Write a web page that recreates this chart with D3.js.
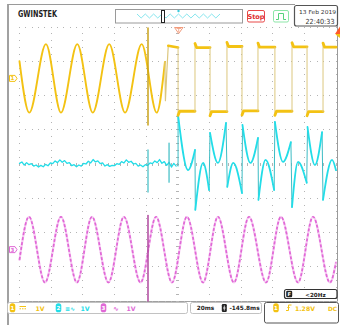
<!DOCTYPE html>
<html>
<head>
<meta charset="utf-8">
<script src="https://cdn.jsdelivr.net/npm/d3@7"></script>
<style>
  html, body { margin: 0; padding: 0; background: #fff; }
  svg { display: block; }
  text { font-family: "DejaVu Sans", "Liberation Sans", sans-serif; }
</style>
</head>
<body>
<svg id="scope" width="340" height="325"></svg>
<script>
// ---------- acquisition / status values ----------
const timebase = "20ms";
const hPosition = "-145.8ms";
const trigLevel = 1.28;          // V, on CH1
const trigText = "1.28V";
const trigCoupling = "DC";
const freqText = "<20Hz";
const dateText = "13 Feb 2019";
const clockText = "22:40:33";
const chScales = ["1V", "1V", "1V"];
const chOffsets = [2.5, 0, -2.5]; // divisions from screen centre

// ---------- CH1 (yellow): sine extrema before the event, [ms, V] ----------
const ch1Sine = [[0, 0.5], [6.2, -1.0], [16.7, 1.0], [26.2, -1.0], [36.5, 1.0],
  [46.3, -1.0], [56.7, 1.0], [66.7, -1.0], [77.2, 1.0], [86.7, -1.0], [91.9, 0.48]];
// short ringing between the sine and the square wave
const ch1Settle = [[91.9, 0.48], [92.2, -0.65], [93.0, 0.1], [94.0, 0.95], [100.2, 0.9]];
// square wave: edge times (ms) and the level reached after each edge (V)
const ch1Edges = [100.2, 110.9, 120.4, 131.1, 140.6, 150.7, 161.4, 172.2, 181.7, 191.8];
const ch1Levels = [-0.96, 0.90, -0.97, 0.93, -0.95, 0.91, -0.96, 0.92, -0.97, 0.91];
const ch1Overshoot = 0.12;
// switching spike on CH1: [ms, top V, bottom V]
const ch1Spike = [81.2, 1.47, -1.36];

// ---------- CH2 (cyan) ----------
// noisy flat trace before the event, one sample every 1.5 ms
const ch2Step = 1.5;
const ch2Noise = [0.02, 0.06, -0.03, 0.04, -0.02, 0.01, -0.06, -0.03, -0.09, -0.04,
  -0.08, -0.01, -0.05, 0.03, 0.01, 0.09, 0.04, 0.12, 0.05, 0.10,
  0.02, 0.04, -0.05, -0.02, -0.08, -0.03, -0.06, 0.02, 0.00, 0.08,
  0.03, 0.13, 0.06, 0.09, 0.01, 0.03, -0.06, -0.02, -0.07, -0.04,
  -0.05, 0.01, -0.01, 0.07, 0.03, 0.12, 0.05, 0.08, 0.00, 0.02,
  -0.06, -0.03, -0.08, -0.02, -0.04, 0.03, 0.01, 0.09, 0.04, 0.13,
  0.02, 0.07, -0.04, 0.05, -0.09, 0.02, -0.06];
// spikes [ms, top V, bottom V]
const ch2Spikes = [[81.2, 0.41, -0.82], [94.5, 0.61, -0.53]];
// lobes after the event: alternating dips and arches, [ms, V]
const ch2Lobes = [
  [[100.2, 1.43], [106.5, -0.18], [110.9, 0.41]],
  [[111.1, -1.34], [116.0, 0.03], [119.8, -0.76]],
  [[120.4, 0.91], [125.4, 0.03], [130.5, 1.20]],
  [[131.3, -0.67], [135.1, 0.03], [140.6, -0.85]],
  [[140.9, 1.14], [145.9, 0.03], [150.7, 0.76]],
  [[151.0, -1.05], [155.5, 0.12], [160.9, -0.76]],
  [[161.4, 1.23], [166.5, 0.06], [171.5, 0.64]],
  [[172.2, -1.26], [176.0, 0.06], [181.5, -0.55]],
  [[182.0, 1.08], [186.7, -0.03], [191.2, 0.93]],
  [[191.8, -1.05], [197.5, 0.12], [200.0, -0.18]]
];

// ---------- CH3 (magenta): sine extrema, [ms, V] ----------
const ch3Sine = [[0, -0.3], [6.0, 0.96], [16.1, -0.96], [26.2, 0.96], [36.3, -0.96],
  [45.8, 0.96], [56.2, -0.96], [66.0, 0.96], [76.5, -0.96], [86.3, 0.96],
  [96.4, -0.96], [105.8, 0.96], [116.0, -0.96], [125.4, 0.96], [135.5, -0.96],
  [145.0, 0.96], [155.8, -0.96], [165.2, 0.96], [176.0, -0.96], [185.5, 0.96],
  [196.2, -0.96], [200, -0.37]];
const ch3Spike = [81.2, 1.0, -1.5];

// ---------- colours ----------
const C1 = "#f3c213", C1edge = "#dcc77e", C1spike = "#c9a21a";
const C2 = "#22dde8", C2edge = "#3cbcc4";
const C3 = "#e068d6", C3base = "#f6c8f2", C3spike = "#b0489f";
const GRID = "#b4b4b4";

const svg = d3.select("#scope");

// screen: 10 x 8 divisions, time axis in ms, vertical axis in divisions
const x = d3.scaleLinear().domain([0, 200]).range([19.5, 336]);
const y = d3.scaleLinear().domain([-4, 4]).range([301, 27]);

// ---------- frame ----------
const frame = svg.append("g").attr("fill", "none");
frame.append("line").attr("x1", 8).attr("x2", 8).attr("y1", 4).attr("y2", 325)
  .attr("stroke", "#8a8a8a").attr("stroke-width", 1.6);
frame.append("line").attr("x1", 8).attr("x2", 295).attr("y1", 4.5).attr("y2", 4.5)
  .attr("stroke", "#9a9a9a").attr("stroke-width", 1);
frame.append("line").attr("x1", 337.5).attr("x2", 337.5).attr("y1", 26).attr("y2", 301)
  .attr("stroke", "#9a9a9a").attr("stroke-width", 1);
frame.append("line").attr("x1", x(0)).attr("x2", 337.5).attr("y1", 301.5).attr("y2", 301.5)
  .attr("stroke", "#a0a0a0").attr("stroke-width", 1);

// ---------- graticule ----------
const grat = svg.append("g").attr("fill", GRID);
const minorT = d3.range(0, 200.001, 4);
const minorV = d3.range(-4, 4.001, 0.2);
const dot = (px, py, w = 1, h = 1) =>
  grat.append("rect").attr("x", Math.round(px - w / 2)).attr("y", Math.round(py - h / 2))
    .attr("width", w).attr("height", h);

d3.range(0, 200.001, 20).forEach(t => minorV.forEach(v => dot(x(t), y(v))));
d3.range(-4, 4.001, 1).forEach(v => minorT.forEach(t => dot(x(t), y(v))));
// centre cross with fine ticks
minorV.forEach(v => dot(x(100), y(v), 3, 1));
minorT.forEach(t => dot(x(t), y(0), 1, 3));

// ---------- traces ----------
const traces = svg.append("g").attr("fill", "none")
  .attr("stroke-linejoin", "round").attr("stroke-linecap", "round");
const trace = (off, curve) => d3.line()
  .x(d => x(d[0])).y(d => y(d[1] + off)).curve(curve);
const vLine = (t, v1, v2, off, color, w) => traces.append("line")
  .attr("x1", x(t)).attr("x2", x(t)).attr("y1", y(v1 + off)).attr("y2", y(v2 + off))
  .attr("stroke", color).attr("stroke-width", w);

// CH3 magenta
traces.append("path").attr("d", trace(chOffsets[2], d3.curveMonotoneX)(ch3Sine))
  .attr("stroke", C3base).attr("stroke-width", 2.2);
traces.append("path").attr("d", trace(chOffsets[2], d3.curveMonotoneX)(ch3Sine))
  .attr("stroke", C3).attr("stroke-width", 1.7).attr("stroke-dasharray", "3 2")
  .attr("stroke-linecap", "butt");
vLine(ch3Spike[0], ch3Spike[1], ch3Spike[2], chOffsets[2], C3spike, 1.5);

// CH2 cyan
const noisePts = ch2Noise.map((v, i) => [i * ch2Step, v]);
traces.append("path").attr("d", trace(chOffsets[1], d3.curveLinear)(noisePts))
  .attr("stroke", C2).attr("stroke-width", 1.3);
ch2Spikes.forEach(s => vLine(s[0], s[1], s[2], chOffsets[1], C2edge, 1.2));
// vertical jumps between lobes
const lastNoise = noisePts[noisePts.length - 1];
vLine(ch2Lobes[0][0][0], lastNoise[1], ch2Lobes[0][0][1], chOffsets[1], C2edge, 1);
ch2Lobes.forEach((lobe, i) => {
  if (i === 0) return;
  const prev = ch2Lobes[i - 1][ch2Lobes[i - 1].length - 1];
  traces.append("line")
    .attr("x1", x(prev[0])).attr("y1", y(prev[1] + chOffsets[1]))
    .attr("x2", x(lobe[0][0])).attr("y2", y(lobe[0][1] + chOffsets[1]))
    .attr("stroke", C2edge).attr("stroke-width", 1);
});
ch2Lobes.forEach(lobe => traces.append("path")
  .attr("d", trace(chOffsets[1], d3.curveMonotoneX)(lobe))
  .attr("stroke", C2).attr("stroke-width", 1.8));

// CH1 yellow
traces.append("path").attr("d", trace(chOffsets[0], d3.curveMonotoneX)(ch1Sine))
  .attr("stroke", C1).attr("stroke-width", 1.9);
traces.append("path").attr("d", trace(chOffsets[0], d3.curveLinear)(ch1Settle))
  .attr("stroke", C1edge).attr("stroke-width", 1.2);
traces.append("path")
  .attr("d", trace(chOffsets[0], d3.curveLinear)(ch1Settle.slice(-2)))
  .attr("stroke", C1).attr("stroke-width", 2.6);
let prevLevel = ch1Settle[ch1Settle.length - 1][1];
ch1Edges.forEach((e, i) => {
  const lvl = ch1Levels[i];
  const peak = lvl + Math.sign(lvl) * ch1Overshoot;
  const end = i + 1 < ch1Edges.length ? ch1Edges[i + 1] : 200;
  vLine(e, prevLevel, peak, chOffsets[0], C1edge, 1);
  traces.append("path")
    .attr("d", trace(chOffsets[0], d3.curveLinear)([[e, peak], [e + 1.0, lvl], [end, lvl]]))
    .attr("stroke", C1).attr("stroke-width", 2.8);
  prevLevel = lvl;
});
vLine(ch1Spike[0], ch1Spike[1], ch1Spike[2], chOffsets[0], C1spike, 1.5);

// ---------- screen markers ----------
const marks = svg.append("g");
const chMarker = (off, color, label) => {
  const cy = y(off);
  marks.append("path")
    .attr("d", `M9.5,${cy - 3} H15 L17,${cy} L15,${cy + 3} H9.5 Z`)
    .attr("fill", "none").attr("stroke", color).attr("stroke-width", 1);
  marks.append("text").attr("x", 12.5).attr("y", cy + 2).attr("text-anchor", "middle")
    .attr("font-size", 5.5).attr("font-weight", "bold").attr("fill", color).text(label);
};
chMarker(chOffsets[0], C1, "1");
chMarker(chOffsets[2], C3, "3");
// trigger level (right edge)
const tl = y(chOffsets[0] + trigLevel);
marks.append("path").attr("d", `M340,${tl - 3.5} V${tl + 3.5} L335.5,${tl} Z`).attr("fill", C1);
// trigger position (top) and off-screen position (top right)
marks.append("path").attr("d", `M174.5,27.5 H183 L178.7,33.5 Z`)
  .attr("fill", "none").attr("stroke", "#f29a7a").attr("stroke-width", 1);
marks.append("path").attr("d", `M176.5,28.5 H181 M178.7,28.5 V32`)
  .attr("stroke", "#f29a7a").attr("stroke-width", 0.8);
marks.append("path").attr("d", `M340,26.5 V34 L335,34 Z`).attr("fill", "#ff5a2a");

// ---------- top bar ----------
const topBar = svg.append("g");
topBar.append("text").attr("x", 18).attr("y", 17.2).attr("font-size", 9)
  .attr("font-family", "Liberation Sans, Arial, sans-serif")
  .attr("font-weight", "bold").attr("fill", "#222")
  .attr("textLength", 39).attr("lengthAdjust", "spacingAndGlyphs").text("GWINSTEK");
// memory bar
topBar.append("rect").attr("x", 115.5).attr("y", 9.5).attr("width", 127).attr("height", 13.5)
  .attr("fill", "#fff").attr("stroke", "#9a9a9a").attr("stroke-width", 1);
const zig = d3.range(137, 221, 4.15).map((px, i) => [px, i % 2 ? 18 : 14]);
topBar.append("path").attr("d", d3.line()(zig)).attr("fill", "none")
  .attr("stroke", "#86e6ee").attr("stroke-width", 1);
topBar.append("rect").attr("x", 161.5).attr("y", 10.5).attr("width", 3).attr("height", 12)
  .attr("fill", "#fff").attr("stroke", "#222").attr("stroke-width", 1);
topBar.append("circle").attr("cx", 178.5).attr("cy", 11).attr("r", 1.2).attr("fill", "#3ccbdc");
// run state
topBar.append("rect").attr("x", 247.5).attr("y", 10.5).attr("width", 17).attr("height", 11.5)
  .attr("rx", 1.5).attr("fill", "#fff").attr("stroke", "#e84848").attr("stroke-width", 1);
topBar.append("text").attr("x", 256).attr("y", 19.3).attr("text-anchor", "middle")
  .attr("font-size", 6.6).attr("font-weight", "bold").attr("fill", "#e03030").text("Stop");
// trigger type
topBar.append("rect").attr("x", 273.5).attr("y", 10.5).attr("width", 15).attr("height", 11.5)
  .attr("rx", 1.5).attr("fill", "#fff").attr("stroke", "#8de6a8").attr("stroke-width", 1);
topBar.append("path").attr("d", "M276,19.5 H278.5 V13.5 H283.5 V19.5 H286")
  .attr("fill", "none").attr("stroke", "#55d27c").attr("stroke-width", 1);
// date / time
topBar.append("rect").attr("x", 294.5).attr("y", 5.5).attr("width", 43).attr("height", 20.5)
  .attr("rx", 2).attr("fill", "#fff").attr("stroke", "#555").attr("stroke-width", 1.2);
topBar.append("text").attr("x", 317.5).attr("y", 13.5).attr("text-anchor", "middle")
  .attr("font-size", 5.5).attr("fill", "#333")
  .attr("textLength", 37).attr("lengthAdjust", "spacingAndGlyphs").text(dateText);
topBar.append("text").attr("x", 320).attr("y", 23.5).attr("text-anchor", "middle")
  .attr("font-size", 7).attr("fill", "#333")
  .attr("textLength", 29).attr("lengthAdjust", "spacingAndGlyphs").text(clockText);

// ---------- bottom status bar ----------
const bot = svg.append("g");
const box = (bx, by, bw, bh, stroke) => bot.append("rect")
  .attr("x", bx).attr("y", by).attr("width", bw).attr("height", bh).attr("rx", 2)
  .attr("fill", "#fff").attr("stroke", stroke).attr("stroke-width", 1);
const label = (lx, ly, str, color, size = 6.2, anchor = "middle") => bot.append("text")
  .attr("x", lx).attr("y", ly).attr("text-anchor", anchor).attr("font-size", size)
  .attr("font-weight", "bold").attr("fill", color).text(str);
const chIcon = (cx, color, n) => {
  bot.append("rect").attr("x", cx - 2.8).attr("y", 303.3).attr("width", 5.6).attr("height", 9)
    .attr("rx", 2.6).attr("fill", color);
  bot.append("text").attr("x", cx).attr("y", 310.4).attr("text-anchor", "middle")
    .attr("font-size", 5.5).attr("font-weight", "bold").attr("fill", "#fff").text(n);
};

// frequency counter
bot.append("rect").attr("x", 284.5).attr("y", 289.5).attr("width", 52.5).attr("height", 9)
  .attr("rx", 2).attr("fill", "#fff").attr("stroke", "#333").attr("stroke-width", 1.2);
bot.append("rect").attr("x", 286.2).attr("y", 290.7).attr("width", 6).attr("height", 6.6)
  .attr("rx", 1.2).attr("fill", "#222");
label(289.2, 296.4, "F", "#fff", 5.2);
label(315.5, 296.6, freqText, "#222", 5.6);

// vertical channels
box(7.5, 302.5, 180, 11, "#c2c2c2");
chIcon(12.5, C1, "1");
bot.append("line").attr("x1", 19.5).attr("x2", 26).attr("y1", 306.5).attr("y2", 306.5)
  .attr("stroke", C1).attr("stroke-width", 1);
bot.append("line").attr("x1", 19.5).attr("x2", 26).attr("y1", 308.8).attr("y2", 308.8)
  .attr("stroke", C1).attr("stroke-width", 1).attr("stroke-dasharray", "1.5 1");
label(40, 310.5, chScales[0], C1);
chIcon(58.5, C2, "2");
label(70, 310.5, "≡∿", C2, 6);
label(85, 310.5, chScales[1], C2);
chIcon(103.5, C3, "3");
label(116, 310.5, "∿", C3, 7);
label(131, 310.5, chScales[2], C3);

// horizontal
box(190.5, 302.5, 71, 11, "#c2c2c2");
label(205.5, 310.3, timebase, "#222", 5.8);
bot.append("rect").attr("x", 221.8).attr("y", 304).attr("width", 5).attr("height", 8)
  .attr("rx", 1.2).attr("fill", "#222");
bot.append("path").attr("d", "M223,308 H225.6 M224.3,305.5 V310.5")
  .attr("stroke", "#fff").attr("stroke-width", 0.8);
label(244.5, 310.3, hPosition, "#222", 5.8);

// trigger
box(264.5, 302.5, 74, 20.5, "#555");
chIcon(276, C1, "1");
bot.append("path").attr("d", "M286,310.5 H288.5 V305 H291.5")
  .attr("fill", "none").attr("stroke", C1).attr("stroke-width", 1);
bot.append("path").attr("d", "M287.3,308 L288.5,306.5 L289.7,308")
  .attr("fill", "none").attr("stroke", C1).attr("stroke-width", 0.8);
label(305, 310.5, trigText, C1, 6.2);
label(328, 310.5, trigCoupling, C1, 5.8, "start");
</script>
</body>
</html>
